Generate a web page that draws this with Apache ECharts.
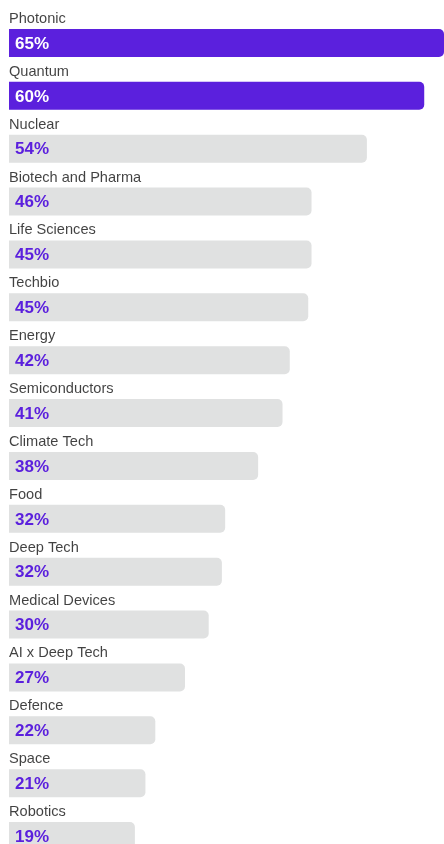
<!DOCTYPE html>
<html>
<head>
<meta charset="utf-8">
<script src="https://cdn.jsdelivr.net/npm/echarts@6/dist/echarts.min.js"></script>
<style>
  html, body { margin: 0; padding: 0; background: #fff; }
  #chart { width: 444px; height: 844px; }
</style>
</head>
<body>
<div id="chart"></div>
<script>
// sectors, top to bottom
const categories = [
  'Photonic', 'Quantum', 'Nuclear', 'Biotech and Pharma', 'Life Sciences',
  'Techbio', 'Energy', 'Semiconductors', 'Climate Tech', 'Food', 'Deep Tech',
  'Medical Devices', 'AI x Deep Tech', 'Defence', 'Space', 'Robotics'
]
// printed percentages
const pctLabels = [65, 60, 54, 46, 45, 45, 42, 41, 38, 32, 32, 30, 27, 22, 21, 19]
// bar lengths as drawn (same units)
const barValues = [68, 63, 54.3, 45.9, 45.9, 45.4, 42.6, 41.5, 37.8, 32.8, 32.3, 30.3, 26.7, 22.2, 20.7, 19.1]
// top two are highlighted
const highlighted = [true, true, false, false, false, false, false, false, false, false, false, false, false, false, false, false]

const PURPLE = '#5B20DD'
const GREY = '#E0E1E1'
const FONT = 'Liberation Sans, Arial, sans-serif'

const chart = echarts.init(document.getElementById('chart'))

const option = {
  animation: false,
  grid: { left: 9, right: 0, top: 16.5, height: 846, outerBoundsMode: 'none', containLabel: false },
  xAxis: {
    type: 'value',
    min: 0,
    max: 66,
    show: false
  },
  yAxis: {
    type: 'category',
    data: categories,
    inverse: true,
    show: false
  },
  series: [{
    type: 'bar',
    barWidth: 28,
    clip: true,
    data: barValues.map((v, i) => ({
      value: v,
      itemStyle: { color: highlighted[i] ? PURPLE : GREY },
      label: { color: highlighted[i] ? '#ffffff' : PURPLE }
    })),
    itemStyle: { borderRadius: [0, 5, 5, 0] },
    label: {
      show: true,
      position: 'insideLeft',
      distance: 6,
      offset: [0, 1],
      fontSize: 17,
      fontWeight: 'bold',
      fontFamily: FONT,
      formatter: p => pctLabels[p.dataIndex] + '%'
    }
  }, {
    // category names sit above each bar
    type: 'scatter',
    symbolSize: 0,
    silent: true,
    data: categories.map(c => [0, c]),
    label: {
      show: true,
      position: 'right',
      distance: 0,
      offset: [0, -24],
      color: '#111111',
      fontSize: 14.6,
      fontFamily: FONT,
      formatter: p => p.value[1]
    }
  }]
}

chart.setOption(option)
</script>
</body>
</html>
